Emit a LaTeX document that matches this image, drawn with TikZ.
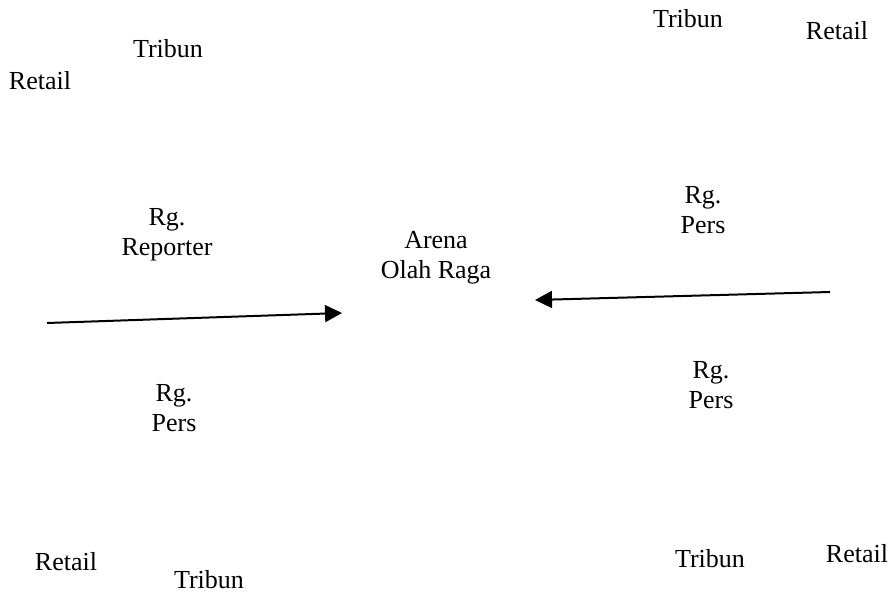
\documentclass[tikz,border=0pt]{standalone}
\usepackage{fontspec}
\setmainfont{Liberation Serif}
\usetikzlibrary{arrows.meta}
\begin{document}
\begin{tikzpicture}[x=0.5pt,y=-0.5pt,
  lbl/.style={font=\fontsize{13}{15}\selectfont,inner sep=0pt,anchor=base},
  blk/.style={font=\fontsize{13}{15}\selectfont,inner sep=0pt,align=center},
  arr/.style={line width=1pt,-{Triangle[length=8.5pt,width=8.5pt]}}]
  \useasboundingbox (0,0) rectangle (892,592);
  \node[lbl] (tribnw) at (168,58) {Tribun}; \node[lbl] (retnw) at (40,90) {Retail};
  \node[lbl] (tribne) at (688,28) {Tribun}; \node[lbl] (retne) at (837,40) {Retail};
  \node[lbl] (retsw) at (66,570) {Retail}; \node[lbl] (tribsw) at (209,588) {Tribun};
  \node[lbl] (tribse) at (710,567) {Tribun}; \node[lbl] (retse) at (857,562) {Retail};
  \node[blk] (rep) at (167,235) {Rg.\\Reporter};
  \node[blk] (arena) at (436,258) {Arena\\Olah Raga};
  \node[blk] (persne) at (703,210) {Rg.\\Pers};
  \node[blk] (perssw) at (174,408) {Rg.\\Pers};
  \node[blk] (persse) at (711,385) {Rg.\\Pers};
  \coordinate (inw) at (47,323); \coordinate (tow) at (342,313);
  \coordinate (ine) at (830,292); \coordinate (toe) at (535,300);
  \draw[arr] (inw) -- (tow);
  \draw[arr] (ine) -- (toe);
\end{tikzpicture}
\end{document}
